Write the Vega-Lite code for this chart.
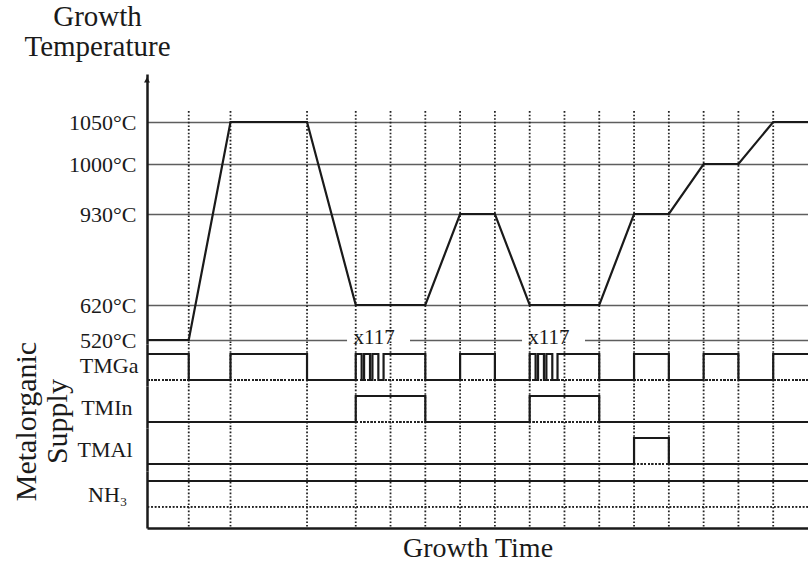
{
  "$schema": "https://vega.github.io/schema/vega-lite/v6.json",
  "background": "white",
  "padding": {"left": 12, "top": 2, "right": 0, "bottom": 0},
  "bounds": "flush",
  "spacing": 0,
  "config": {
    "view": {"stroke": null},
    "font": "Liberation Serif",
    "axis": {"labelFont": "Liberation Serif", "titleFont": "Liberation Serif", "titleFontWeight": "normal", "labelColor": "#1a1a1a", "titleColor": "#1a1a1a", "domainColor": "#1a1a1a", "domainWidth": 2.5},
    "title": {"font": "Liberation Serif", "fontWeight": "normal", "color": "#1a1a1a"}
  },
  "datasets": {
    "temp": [
      {"t": 0, "temp": 520}, {"t": 1.2, "temp": 520}, {"t": 2.4, "temp": 1050}, {"t": 4.6, "temp": 1050},
      {"t": 6, "temp": 620}, {"t": 8, "temp": 620}, {"t": 9, "temp": 930}, {"t": 10, "temp": 930},
      {"t": 11, "temp": 620}, {"t": 13, "temp": 620}, {"t": 14, "temp": 930}, {"t": 15, "temp": 930},
      {"t": 16, "temp": 1000}, {"t": 17, "temp": 1000}, {"t": 18, "temp": 1050}, {"t": 19, "temp": 1050}
    ],
    "steps": [
      {"t": 1.2}, {"t": 2.4}, {"t": 4.6}, {"t": 6}, {"t": 7}, {"t": 8}, {"t": 9}, {"t": 10},
      {"t": 11}, {"t": 12}, {"t": 13}, {"t": 14}, {"t": 15}, {"t": 16}, {"t": 17}, {"t": 18}
    ],
    "repeats": [
      {"label": "x117", "t": 6.53, "t0": 5.75, "t1": 7.56},
      {"label": "x117", "t": 11.55, "t0": 10.78, "t1": 12.59}
    ],
    "supply": [
      {"ch": "TMGa", "t": 0, "on": 1}, {"ch": "TMGa", "t": 1.2, "on": 0}, {"ch": "TMGa", "t": 2.4, "on": 1}, {"ch": "TMGa", "t": 4.6, "on": 0},
      {"ch": "TMGa", "t": 6.0, "on": 1}, {"ch": "TMGa", "t": 6.17, "on": 0}, {"ch": "TMGa", "t": 6.24, "on": 1}, {"ch": "TMGa", "t": 6.41, "on": 0},
      {"ch": "TMGa", "t": 6.48, "on": 1}, {"ch": "TMGa", "t": 6.65, "on": 0}, {"ch": "TMGa", "t": 6.8, "on": 1}, {"ch": "TMGa", "t": 8, "on": 0},
      {"ch": "TMGa", "t": 9, "on": 1}, {"ch": "TMGa", "t": 10, "on": 0},
      {"ch": "TMGa", "t": 11.0, "on": 1}, {"ch": "TMGa", "t": 11.17, "on": 0}, {"ch": "TMGa", "t": 11.24, "on": 1}, {"ch": "TMGa", "t": 11.41, "on": 0},
      {"ch": "TMGa", "t": 11.48, "on": 1}, {"ch": "TMGa", "t": 11.65, "on": 0}, {"ch": "TMGa", "t": 11.8, "on": 1}, {"ch": "TMGa", "t": 13, "on": 0},
      {"ch": "TMGa", "t": 14, "on": 1}, {"ch": "TMGa", "t": 15, "on": 0}, {"ch": "TMGa", "t": 16, "on": 1}, {"ch": "TMGa", "t": 17, "on": 0},
      {"ch": "TMGa", "t": 18, "on": 1}, {"ch": "TMGa", "t": 19, "on": 1},
      {"ch": "TMIn", "t": 0, "on": 0}, {"ch": "TMIn", "t": 6, "on": 1}, {"ch": "TMIn", "t": 8, "on": 0},
      {"ch": "TMIn", "t": 11, "on": 1}, {"ch": "TMIn", "t": 13, "on": 0}, {"ch": "TMIn", "t": 19, "on": 0},
      {"ch": "TMAl", "t": 0, "on": 0}, {"ch": "TMAl", "t": 14, "on": 1}, {"ch": "TMAl", "t": 15, "on": 0}, {"ch": "TMAl", "t": 19, "on": 0},
      {"ch": "NH3", "t": 0, "on": 1}, {"ch": "NH3", "t": 19, "on": 1}
    ]
  },
  "vconcat": [
    {
      "width": 661,
      "height": 270,
      "layer": [
        {
          "data": {"name": "repeats"},
          "mark": {"type": "rect", "color": "white"},
          "encoding": {
            "x": {"field": "t0", "type": "quantitative", "scale": {"domain": [0, 19], "nice": false, "zero": false}, "axis": null},
            "x2": {"field": "t1"},
            "y": {"datum": 510, "type": "quantitative", "scale": {"domain": [500, 520, 620, 930, 1000, 1050, 1107], "range": [270, 266, 231, 140, 90, 48, 0], "nice": false, "zero": false},
              "axis": {"values": [520, 620, 930, 1000, 1050], "labelExpr": "datum.value + '°C'", "grid": true, "gridColor": "#5e5e5e", "gridWidth": 1.6, "ticks": false, "labelFontSize": 22, "labelPadding": 11,
                "title": ["Growth", "Temperature"], "titleAngle": 0, "titleX": -50, "titleY": -72, "titleAlign": "center", "titleBaseline": "top", "titleFontSize": 29, "titleLineHeight": 30}},
            "y2": {"datum": 530}
          }
        },
        {
          "data": {"name": "steps"},
          "mark": {"type": "rule", "color": "#222222", "strokeWidth": 1.8, "strokeDash": [1.6, 2]},
          "encoding": {
            "x": {"field": "t", "type": "quantitative"},
            "y": {"datum": 1063, "type": "quantitative"},
            "y2": {"datum": 500}
          }
        },
        {
          "data": {"name": "repeats"},
          "mark": {"type": "text", "fontSize": 21, "baseline": "middle", "dy": -2, "color": "#1a1a1a"},
          "encoding": {
            "x": {"field": "t", "type": "quantitative"},
            "y": {"datum": 520, "type": "quantitative"},
            "text": {"field": "label"}
          }
        },
        {
          "data": {"name": "temp"},
          "mark": {"type": "line", "color": "#1a1a1a", "strokeWidth": 2.2},
          "encoding": {
            "x": {"field": "t", "type": "quantitative"},
            "y": {"field": "temp", "type": "quantitative"}
          }
        },
        {
          "data": {"values": [{"t": 0, "temp": 1100}]},
          "mark": {"type": "point", "shape": "triangle-up", "filled": true, "color": "#1a1a1a", "size": 35, "opacity": 1},
          "encoding": {
            "x": {"field": "t", "type": "quantitative"},
            "y": {"field": "temp", "type": "quantitative"}
          }
        }
      ]
    },
    {
      "spacing": 0,
      "bounds": "flush",
      "title": {"text": ["Metalorganic", "Supply"], "orient": "left", "anchor": "middle", "fontSize": 30, "lineHeight": 31, "offset": 4, "dx": 31},
      "vconcat": [
        {
          "width": 661, "height": 42,
          "transform": [{"filter": "datum.ch === 'TMGa'"}],
          "data": {"name": "supply"},
          "layer": [
            {"mark": {"type": "rule", "color": "#222222", "strokeWidth": 1.8, "strokeDash": [1.6, 2]}, "encoding": {"y": {"datum": 0, "type": "quantitative", "scale": {"domain": [-0.23, 1.385], "nice": false, "zero": false},
              "axis": {"title": "TMGa", "titleAngle": 0, "titleAlign": "right", "titleBaseline": "middle", "titleFontSize": 22, "labels": false, "ticks": false, "grid": false, "titlePadding": 9}}}},
            {"data": {"name": "steps"}, "mark": {"type": "rule", "color": "#222222", "strokeWidth": 1.8, "strokeDash": [1.6, 2]}, "encoding": {"x": {"field": "t", "type": "quantitative", "scale": {"domain": [0, 19], "nice": false, "zero": false}, "axis": null}}},
            {"mark": {"type": "line", "interpolate": "step-after", "color": "#1a1a1a", "strokeWidth": 2.2}, "encoding": {"x": {"field": "t", "type": "quantitative"}, "y": {"field": "on", "type": "quantitative"}}}
          ]
        },
        {
          "width": 661, "height": 42,
          "transform": [{"filter": "datum.ch === 'TMIn'"}],
          "data": {"name": "supply"},
          "layer": [
            {"mark": {"type": "rule", "color": "#222222", "strokeWidth": 1.8, "strokeDash": [1.6, 2]}, "encoding": {"y": {"datum": 0, "type": "quantitative", "scale": {"domain": [-0.23, 1.385], "nice": false, "zero": false},
              "axis": {"title": "TMIn", "titleAngle": 0, "titleAlign": "right", "titleBaseline": "middle", "titleFontSize": 22, "labels": false, "ticks": false, "grid": false, "titlePadding": 15}}}},
            {"data": {"name": "steps"}, "mark": {"type": "rule", "color": "#222222", "strokeWidth": 1.8, "strokeDash": [1.6, 2]}, "encoding": {"x": {"field": "t", "type": "quantitative", "scale": {"domain": [0, 19], "nice": false, "zero": false}, "axis": null}}},
            {"mark": {"type": "line", "interpolate": "step-after", "color": "#1a1a1a", "strokeWidth": 2.2}, "encoding": {"x": {"field": "t", "type": "quantitative"}, "y": {"field": "on", "type": "quantitative"}}}
          ]
        },
        {
          "width": 661, "height": 43,
          "transform": [{"filter": "datum.ch === 'TMAl'"}],
          "data": {"name": "supply"},
          "layer": [
            {"mark": {"type": "rule", "color": "#222222", "strokeWidth": 1.8, "strokeDash": [1.6, 2]}, "encoding": {"y": {"datum": 0, "type": "quantitative", "scale": {"domain": [-0.27, 1.385], "nice": false, "zero": false},
              "axis": {"title": "TMAl", "titleAngle": 0, "titleAlign": "right", "titleBaseline": "middle", "titleFontSize": 22, "labels": false, "ticks": false, "grid": false, "titlePadding": 15}}}},
            {"data": {"name": "steps"}, "mark": {"type": "rule", "color": "#222222", "strokeWidth": 1.8, "strokeDash": [1.6, 2]}, "encoding": {"x": {"field": "t", "type": "quantitative", "scale": {"domain": [0, 19], "nice": false, "zero": false}, "axis": null}}},
            {"mark": {"type": "line", "interpolate": "step-after", "color": "#1a1a1a", "strokeWidth": 2.2}, "encoding": {"x": {"field": "t", "type": "quantitative"}, "y": {"field": "on", "type": "quantitative"}}}
          ]
        },
        {
          "width": 661, "height": 57,
          "transform": [{"filter": "datum.ch === 'NH3'"}],
          "data": {"name": "supply"},
          "layer": [
            {"mark": {"type": "rule", "color": "#222222", "strokeWidth": 1.8, "strokeDash": [1.6, 2]}, "encoding": {"y": {"datum": 0, "type": "quantitative", "scale": {"domain": [-0.81, 1.385], "nice": false, "zero": false},
              "axis": {"title": "NH₃", "titleAngle": 0, "titleAlign": "right", "titleBaseline": "middle", "titleFontSize": 22, "titleY": 23, "labels": false, "ticks": false, "grid": false, "titlePadding": 20}}}},
            {"data": {"name": "steps"}, "mark": {"type": "rule", "color": "#222222", "strokeWidth": 1.8, "strokeDash": [1.6, 2]}, "encoding": {"x": {"field": "t", "type": "quantitative", "scale": {"domain": [0, 19], "nice": false, "zero": false},
              "axis": {"title": "Growth Time", "labels": false, "ticks": false, "grid": false, "titleFontSize": 28, "titlePadding": 6}}}},
            {"mark": {"type": "line", "interpolate": "step-after", "color": "#1a1a1a", "strokeWidth": 2.2}, "encoding": {"x": {"field": "t", "type": "quantitative"}, "y": {"field": "on", "type": "quantitative"}}}
          ]
        }
      ]
    }
  ]
}
